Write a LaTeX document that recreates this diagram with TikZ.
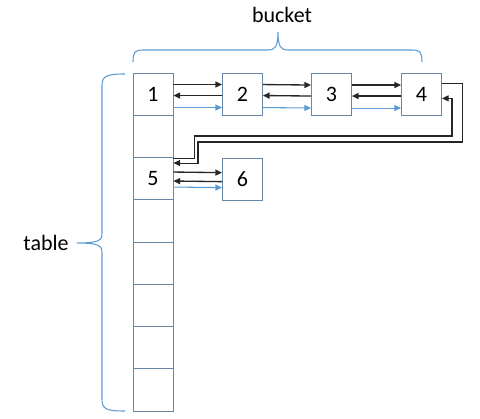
\documentclass[tikz,border=0pt]{standalone}
\usepackage{fontspec}
\setmainfont{Carlito}
\usetikzlibrary{arrows.meta}

\definecolor{boxc}{RGB}{104,134,168}
\definecolor{bluec}{RGB}{91,155,213}

\begin{document}
\begin{tikzpicture}[x=0.75pt,y=-0.75pt,font=\fontsize{16.5}{19}\selectfont,
  cell/.style={draw=boxc, line width=0.65pt, minimum width=30pt,
    minimum height=31.7pt, inner sep=0pt},
  nxt/.style={-{Triangle[length=5pt,width=4.5pt]}, line width=1pt, black!85},
  prv/.style={nxt},
  lnk/.style={nxt, line width=0.8pt},
  blu/.style={-{Triangle[length=5pt,width=4.5pt]}, line width=0.8pt, bluec},
  brc/.style={line width=0.8pt, bluec}]

  \useasboundingbox (0,0) rectangle (480,419);

  \newcommand\dA{9pt}
  \newcommand\dB{17.25pt}
  \newcommand\dC{26.25pt}

  %% table column
  \foreach \i/\lbl in {1/1,2/,3/5,4/,5/,6/,7/,8/}
    \node[cell] (t\i) at (153,{94.1+42.25*(\i-1)}) {\lbl};

  %% bucket boxes
  \node[cell] (b2) at (242.5,94.1) {2};
  \node[cell] (b3) at (331.5,94.6) {3};
  \node[cell] (b4) at (421.5,94.6) {4};
  \node[cell] (b6) at (242.5,179.2) {6};

  \foreach \a/\b in {t1/b2,b2/b3,b3/b4}{
    \draw[nxt]([yshift=-\dA]\a.north east) -- ([yshift=-\dA]\b.north west);
    \draw[prv]([yshift=-\dB]\b.north west) -- ([yshift=-\dB]\a.north east);
    \draw[blu]([yshift=-\dC]\a.north east) -- ([yshift=-\dC]\b.north west);
  }

  \draw[nxt]([yshift=-11.25pt]t3.north east) -- ([yshift=-11.25pt]b6.north west); %% 5 -> 6
  \draw[prv]([yshift=-18pt]b6.north west) -- ([yshift=-18pt]t3.north east); %% 6 -> 5
  \draw[blu]([yshift=-22.5pt]t3.north east) -- ([yshift=-22.5pt]b6.north west);

  \draw[lnk]([yshift=-7.5pt]b4.north east) -- ++(21,0) |- (198,142)
    |- ([yshift=-4.5pt]t3.north east); %% 4 -> 5
  \draw[lnk]([yshift=-0.75pt]t3.north east) -- ++(21,0) |- (452,136)
    |- ([yshift=-19pt]b4.north east); %% 5 -> 4

  %% braces
  \draw[brc](133,62) .. controls (133,52) and (135,50) .. (143,50) -- (268,50)
    .. controls (275,50) and (278,47) .. (278,32)
    .. controls (278,47) and (281,50) .. (288,50) -- (412,50)
    .. controls (420,50) and (422,52) .. (422,62);
  \draw[brc](125,74) .. controls (106,74) and (102,76) .. (102,86) -- (102,233)
    .. controls (102,240) and (100,243) .. (77,243)
    .. controls (100,243) and (102,246) .. (102,253) -- (102,399)
    .. controls (102,409) and (106,411) .. (125,411);

  \node (bucket) at (282,15) {bucket};
  \node (table) at (46,243) {table};

\end{tikzpicture}
\end{document}
